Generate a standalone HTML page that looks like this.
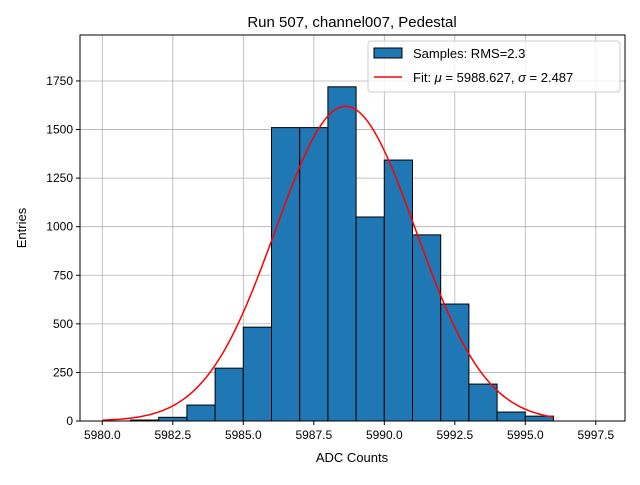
<!DOCTYPE html>
<html><head><meta charset="utf-8"><style>body{margin:0;background:#fff}svg{font-family:"Liberation Sans","DejaVu Sans",sans-serif}</style></head>
<body>
<svg id="c" width="640" height="480" xmlns="http://www.w3.org/2000/svg">
<rect width="640" height="480" fill="#fff"/>
<text x="352" y="27" font-size="15" text-anchor="middle">Run 507, channel007, Pedestal</text>
<g id="grid"></g><g id="bars"></g><g id="curve"></g>
<rect x="80" y="35" width="545" height="386" fill="none" stroke="#000" stroke-width="1"/>
<g id="ticks"></g>
<text x="352" y="462" font-size="13" text-anchor="middle">ADC Counts</text>
<text x="26" y="228" font-size="13" text-anchor="middle" transform="rotate(-90 26 228)">Entries</text>
<g>
<rect x="368" y="41" width="252" height="51" rx="3" fill="#fff" fill-opacity="0.8" stroke="#ccc"/>
<rect x="374" y="48" width="28" height="10" fill="#1f77b4" stroke="#000"/>
<text x="413" y="58" font-size="13">Samples: RMS=2.3</text>
<line x1="374" y1="77" x2="402" y2="77" stroke="red" stroke-width="1.5"/>
<text x="413" y="82" font-size="13">Fit: <tspan font-style="italic">μ</tspan> = 5988.627, <tspan font-style="italic">σ</tspan> = 2.487</text>
</g>
</svg>
<script>
const binCounts=[5,19,82,272,483,1510,1510,1720,1050,1343,958,602,190,46,25];
const binWidth=1;const firstBin=5981;
const xTicks=[5980.0,5982.5,5985.0,5987.5,5990.0,5992.5,5995.0,5997.5];
const yTicks=[0,250,500,750,1000,1250,1500,1750];
const fitMu=5988.627,fitSigma=2.487,fitAmp=1620,fitRange=[5980,5996];
const NS="http://www.w3.org/2000/svg";
const X=v=>102.3+(v-5980)*28.2;
const Y=v=>421-v*0.1943;
function mk(t,a,p){const e=document.createElementNS(NS,t);for(const k in a)e.setAttribute(k,a[k]);p.appendChild(e);return e;}
const g=document.getElementById('grid'),tk=document.getElementById('ticks'),b=document.getElementById('bars'),cv=document.getElementById('curve');
xTicks.forEach(v=>{const x=X(v);
const l=mk('line',{x1:x,x2:x,y1:35,y2:421,stroke:'#b0b0b0','stroke-width':0.8},g);

mk('line',{x1:x,x2:x,y1:421,y2:425,stroke:'#000'},tk);
const t=mk('text',{x:x,y:439,'font-size':12,'text-anchor':'middle'},tk);t.textContent=v.toFixed(1);
});
yTicks.forEach(v=>{const y=Y(v);
const l=mk('line',{x1:80,x2:625,y1:y,y2:y,stroke:'#b0b0b0','stroke-width':0.8},g);

mk('line',{x1:76,x2:80,y1:y,y2:y,stroke:'#000'},tk);
const t=mk('text',{x:73,y:y+4,'font-size':12,'text-anchor':'end'},tk);t.textContent=v;
});
binCounts.forEach((c,i)=>{const x0=X(firstBin+i*binWidth),x1=X(firstBin+(i+1)*binWidth);
const r=mk('rect',{x:x0,y:Y(c),width:x1-x0,height:Y(0)-Y(c),fill:'#1f77b4',stroke:'#000','stroke-width':1},b);
});
let d='';for(let i=0;i<=200;i++){const v=fitRange[0]+(fitRange[1]-fitRange[0])*i/200;
const f=fitAmp*Math.exp(-0.5*((v-fitMu)/fitSigma)**2);d+=(i?'L':'M')+X(v).toFixed(2)+','+Y(f).toFixed(2);}
const p=mk('path',{d:d,fill:'none',stroke:'red','stroke-width':1.5},cv);

</script>
</body></html>
